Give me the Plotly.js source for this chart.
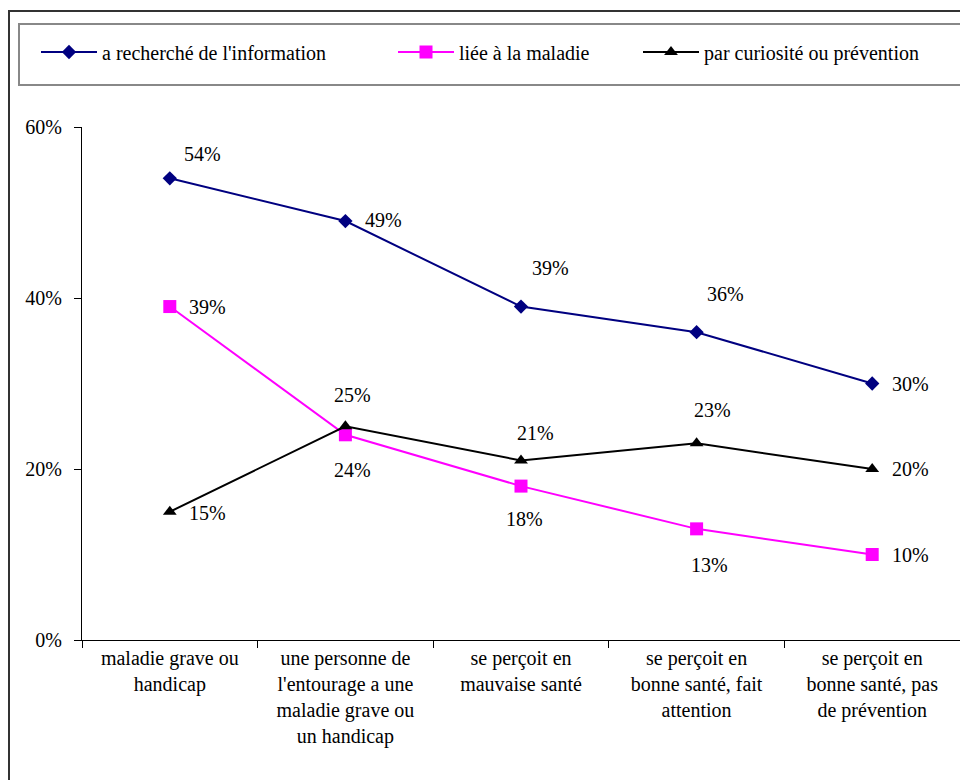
<!DOCTYPE html>
<html>
<head>
<meta charset="utf-8">
<script src="https://cdn.plot.ly/plotly-3.0.1.min.js"></script>
<style>
  html, body { margin: 0; padding: 0; background: #ffffff; }
  #chart { width: 960px; height: 780px; }
</style>
</head>
<body>
<div id="chart"></div>
<script>
// ---- data ----
const categories = [
  "maladie grave ou<br>handicap",
  "une personne de<br>l'entourage a une<br>maladie grave ou<br>un handicap",
  "se perçoit en<br>mauvaise santé",
  "se perçoit en<br>bonne santé, fait<br>attention",
  "se perçoit en<br>bonne santé, pas<br>de prévention"
];
const seriesNames = [
  "a recherché de l'information",
  "liée à la maladie",
  "par curiosité ou prévention"
];
const rechercheInfo = [0.54, 0.49, 0.39, 0.36, 0.30];
const lieeMaladie = [0.39, 0.24, 0.18, 0.13, 0.10];
const curiosite = [0.15, 0.25, 0.21, 0.23, 0.20];
const yTickVals = [0, 0.2, 0.4, 0.6];
const yTickText = ["0%", "20%", "40%", "60%"];

// ---- label placement (pixel shifts, style only) ----
const shiftsRecherche = [[33, 24], [38, 1], [29, 39], [29, 38], [38, 0]];
const shiftsLiee = [[38, 0], [7, -35], [3, -33], [13, -36], [38, 0]];
const shiftsCuriosite = [[38, -1], [7, 31], [14, 27], [16, 33], [38, 0]];

const FONT = "Times New Roman, Liberation Serif, DejaVu Serif, serif";
const catIdx = categories.map((c, i) => i);

function pct(v) { return Math.round(v * 100) + "%"; }

const traces = [
  {
    x: catIdx, y: rechercheInfo, name: seriesNames[0], type: "scatter", mode: "lines+markers",
    line: { color: "#000080", width: 2 },
    marker: { symbol: "diamond", size: 11, color: "#000080" },
    legend: "legend", hoverinfo: "skip"
  },
  {
    x: catIdx, y: lieeMaladie, name: seriesNames[1], type: "scatter", mode: "lines+markers",
    line: { color: "#FF00FF", width: 2 },
    marker: { symbol: "square", size: 13, color: "#FF00FF" },
    legend: "legend2", hoverinfo: "skip"
  },
  {
    x: catIdx, y: curiosite, name: seriesNames[2], type: "scatter", mode: "lines+markers",
    line: { color: "#000000", width: 2 },
    marker: { symbol: "triangle-up", size: 12, color: "#000000" },
    legend: "legend3", hoverinfo: "skip"
  }
];

const annotations = [];
function addLabels(vals, shifts) {
  vals.forEach((v, i) => {
    annotations.push({
      x: i, y: v, xref: "x", yref: "y", text: pct(v), showarrow: false,
      xshift: shifts[i][0], yshift: shifts[i][1],
      font: { family: FONT, size: 20, color: "#000000" }
    });
  });
}
addLabels(rechercheInfo, shiftsRecherche);
addLabels(lieeMaladie, shiftsLiee);
addLabels(curiosite, shiftsCuriosite);

function legendAt(xpx) {
  return {
    xref: "container", yref: "container", x: xpx / 960, y: 1 - 52 / 780,
    xanchor: "left", yanchor: "middle", orientation: "h",
    bgcolor: "rgba(0,0,0,0)", borderwidth: 0, itemwidth: 56,
    font: { family: FONT, size: 20, color: "#000000" }
  };
}

const layout = {
  width: 960, height: 780,
  margin: { l: 82, r: 0, t: 127, b: 140, pad: 0 },
  paper_bgcolor: "#ffffff", plot_bgcolor: "#ffffff",
  font: { family: FONT, size: 20, color: "#000000" },
  showlegend: true,
  legend: legendAt(36),
  legend2: legendAt(393),
  legend3: legendAt(638),
  xaxis: {
    type: "linear", range: [-0.5, 4.5],
    tickmode: "array", tickvals: catIdx, ticktext: categories,
    showgrid: false, zeroline: false, showline: true, linecolor: "#000000", linewidth: 1,
    ticks: "", tickfont: { family: FONT, size: 20, color: "#000000" },
    fixedrange: true
  },
  xaxis2: {
    overlaying: "x", matches: "x", range: [-0.5, 4.5],
    tickmode: "array", tickvals: [-0.5, 0.5, 1.5, 2.5, 3.5, 4.5], ticktext: ["", "", "", "", "", ""],
    ticks: "outside", ticklen: 7, tickcolor: "#000000", tickwidth: 1,
    showgrid: false, zeroline: false, showline: false, side: "bottom", anchor: "y"
  },
  yaxis: {
    range: [0, 0.6], tickmode: "array", tickvals: yTickVals, ticktext: yTickText,
    showgrid: false, zeroline: false, showline: true, linecolor: "#000000", linewidth: 1,
    ticks: "outside", ticklen: 7, tickcolor: "#000000", tickwidth: 1,
    ticklabelstandoff: 8,
    tickfont: { family: FONT, size: 20, color: "#000000" },
    fixedrange: true
  },
  shapes: [
    { type: "rect", xref: "paper", yref: "paper",
      x0: (9 - 82) / 878, x1: 1.05, y0: -0.4, y1: 1 - (11 - 127) / 513,
      line: { color: "#333333", width: 2 }, fillcolor: "rgba(0,0,0,0)", layer: "below" },
    { type: "rect", xref: "paper", yref: "paper",
      x0: (19 - 82) / 878, x1: 1.05, y0: 1 - (85 - 127) / 513, y1: 1 - (24 - 127) / 513,
      line: { color: "#888888", width: 2 }, fillcolor: "rgba(0,0,0,0)", layer: "below" }
  ],
  annotations: annotations
};

// invisible trace on the overlay axis that carries the category boundary ticks
traces.push({ x: [0], y: [0], xaxis: "x2", yaxis: "y", mode: "markers",
  marker: { opacity: 0 }, showlegend: false, hoverinfo: "skip" });

Plotly.newPlot("chart", traces, layout, { displayModeBar: false, staticPlot: true });
</script>
</body>
</html>
